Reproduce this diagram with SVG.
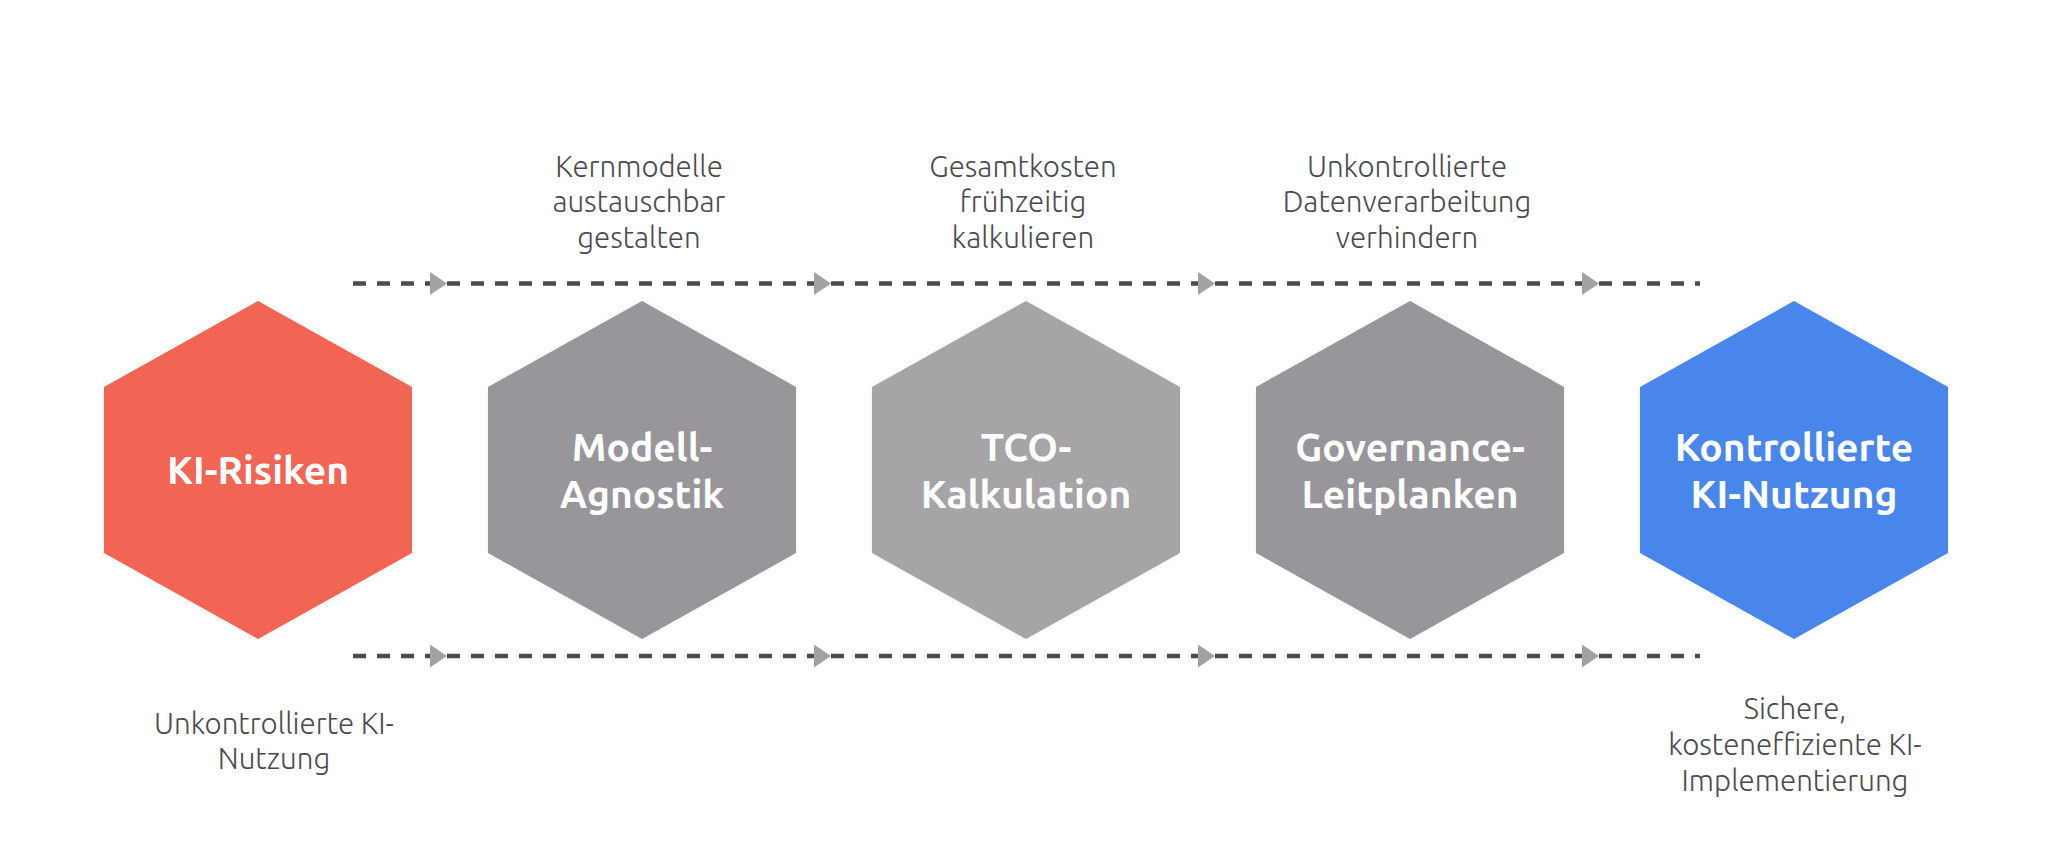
<svg xmlns="http://www.w3.org/2000/svg" width="2052" height="844" viewBox="0 0 2052 844">
<defs>
<style>
.hex{stroke:none}
.lbl{font-family:Ubuntu,Lato,"Open Sans",sans-serif;font-weight:600;font-size:39px;fill:#ffffff;text-anchor:middle}
.desc{font-family:Ubuntu,Lato,"Open Sans",sans-serif;font-weight:300;font-size:29.5px;fill:#4a4a4e;text-anchor:middle}
.con{stroke:#4b4b4f;stroke-width:4.5;stroke-dasharray:13 11;fill:none;marker-end:url(#tri)}
.con-end{stroke:#4b4b4f;stroke-width:4.5;stroke-dasharray:13 11;fill:none}
</style>
<marker id="tri" markerUnits="userSpaceOnUse" markerWidth="18" markerHeight="24" refX="17" refY="11.5" orient="auto">
<path d="M0,0 L17,11.5 L0,23 Z" fill="#a3a1a5"/>
</marker>
<filter id="sh" x="-10%" y="-10%" width="120%" height="120%">
<feDropShadow dx="0" dy="0" stdDeviation="2" flood-color="#000" flood-opacity="0.06"/>
</filter>
</defs>
<rect width="2052" height="844" fill="#ffffff"/>

<g id="connectors">
<line class="con" x1="353" y1="283.5" x2="447" y2="283.5"/>
<line class="con" x1="447" y1="283.5" x2="831" y2="283.5"/>
<line class="con" x1="831" y1="283.5" x2="1215" y2="283.5"/>
<line class="con" x1="1215" y1="283.5" x2="1599" y2="283.5"/>
<line class="con-end" x1="1599" y1="283.5" x2="1700" y2="283.5"/>
<line class="con" x1="353" y1="656" x2="447" y2="656"/>
<line class="con" x1="447" y1="656" x2="831" y2="656"/>
<line class="con" x1="831" y1="656" x2="1215" y2="656"/>
<line class="con" x1="1215" y1="656" x2="1599" y2="656"/>
<line class="con-end" x1="1599" y1="656" x2="1700" y2="656"/>
</g>

<g id="node-ki-risiken">
<polygon class="hex" filter="url(#sh)" fill="#f26555" points="258,301 412,387 412,553 258,639 104,553 104,387"/>
<text class="lbl" x="258" y="484">KI-Risiken</text>
<text class="desc" x="274" y="734">Unkontrollierte KI-</text>
<text class="desc" x="274" y="769">Nutzung</text>
</g>

<g id="node-modell-agnostik">
<polygon class="hex" filter="url(#sh)" fill="#98969a" points="642,301 796,387 796,553 642,639 488,553 488,387"/>
<text class="lbl" x="642" y="461">Modell-</text>
<text class="lbl" x="642" y="508">Agnostik</text>
<text class="desc" x="639" y="177">Kernmodelle</text>
<text class="desc" x="639" y="212">austauschbar</text>
<text class="desc" x="639" y="248">gestalten</text>
</g>

<g id="node-tco-kalkulation">
<polygon class="hex" filter="url(#sh)" fill="#a6a4a7" points="1026,301 1180,387 1180,553 1026,639 872,553 872,387"/>
<text class="lbl" x="1026" y="461">TCO-</text>
<text class="lbl" x="1026" y="508">Kalkulation</text>
<text class="desc" x="1023" y="177">Gesamtkosten</text>
<text class="desc" x="1023" y="212">frühzeitig</text>
<text class="desc" x="1023" y="248">kalkulieren</text>
</g>

<g id="node-governance-leitplanken">
<polygon class="hex" filter="url(#sh)" fill="#98969a" points="1410,301 1564,387 1564,553 1410,639 1256,553 1256,387"/>
<text class="lbl" x="1410" y="461">Governance-</text>
<text class="lbl" x="1410" y="508">Leitplanken</text>
<text class="desc" x="1407" y="177">Unkontrollierte</text>
<text class="desc" x="1407" y="212">Datenverarbeitung</text>
<text class="desc" x="1407" y="248">verhindern</text>
</g>

<g id="node-kontrollierte-ki-nutzung">
<polygon class="hex" filter="url(#sh)" fill="#4a86ec" points="1794,301 1948,387 1948,553 1794,639 1640,553 1640,387"/>
<text class="lbl" x="1794" y="461">Kontrollierte</text>
<text class="lbl" x="1794" y="508">KI-Nutzung</text>
<text class="desc" x="1795" y="719">Sichere,</text>
<text class="desc" x="1795" y="755">kosteneffiziente KI-</text>
<text class="desc" x="1795" y="791">Implementierung</text>
</g>
</svg>
